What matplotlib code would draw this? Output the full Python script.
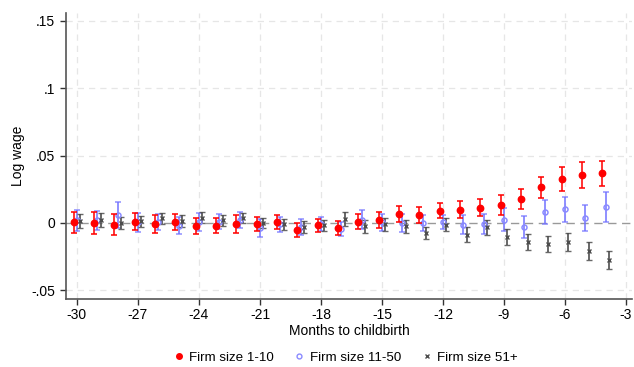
import numpy as np
import matplotlib
matplotlib.use("Agg")
import matplotlib.pyplot as plt
from matplotlib.lines import Line2D

plt.rcParams['font.family'] = ['Liberation Sans', 'DejaVu Sans']
plt.rcParams['axes.unicode_minus'] = False

months = np.arange(-30, -3)

# firm size 1-10 (coef, half-width of 95% CI)
small = [0.0005, -0.0002, -0.0012, 0.001, -0.001, 0.0005, -0.002, -0.002, -0.001, -0.001,
         0.0007, -0.0052, -0.0018, -0.004, 0.001, 0.002, 0.0065, 0.006, 0.009, 0.0098,
         0.0113, 0.0134, 0.018, 0.0264, 0.0327, 0.0355, 0.0369]
small_ci = [0.008, 0.008, 0.0078, 0.0065, 0.0067, 0.006, 0.006, 0.0056, 0.0067, 0.0052,
            0.0053, 0.0052, 0.0048, 0.0052, 0.0054, 0.0058, 0.0058, 0.0058, 0.0056, 0.0063,
            0.0063, 0.0074, 0.0075, 0.008, 0.009, 0.0095, 0.0094]

# firm size 11-50
mid = [0.002, 0.002, 0.006, 0.0005, 0.0005, -0.002, 0.0005, 0.001, 0.002, -0.0035,
       -0.001, -0.003, -0.0005, -0.0043, 0.0025, 0.0005, 0.0, -0.0003, 0.0005, -0.0013,
       -0.001, 0.0025, -0.0028, 0.0082, 0.0102, 0.0035, 0.0117]
mid_ci = [0.0077, 0.007, 0.0095, 0.007, 0.006, 0.0065, 0.0068, 0.0056, 0.0058, 0.0068,
          0.0057, 0.0056, 0.0053, 0.005, 0.0068, 0.0065, 0.0065, 0.006, 0.0053, 0.007,
          0.0075, 0.0084, 0.008, 0.009, 0.0094, 0.0095, 0.011]

# firm size 51+
large = [0.0017, 0.002, 0.0, 0.0013, 0.0035, 0.0017, 0.004, 0.002, 0.0035, -0.0002,
         -0.001, -0.003, -0.0018, 0.003, -0.0025, -0.001, -0.0025, -0.0075, -0.0013, -0.0086,
         -0.0032, -0.0106, -0.0139, -0.0156, -0.0141, -0.0206, -0.0275]
large_ci = [0.0053, 0.0053, 0.0043, 0.004, 0.004, 0.0046, 0.004, 0.0042, 0.0037, 0.0037,
            0.0043, 0.0043, 0.0041, 0.005, 0.005, 0.0047, 0.0048, 0.0047, 0.005, 0.0056,
            0.0056, 0.006, 0.006, 0.0063, 0.0067, 0.0067, 0.0069]

xticks = [-30, -27, -24, -21, -18, -15, -12, -9, -6, -3]
yticks = [-0.05, 0, 0.05, 0.1, 0.15]
ytick_labels = ['-.05', '0', '.05', '.1', '.15']

RED = '#ff0000'
BLUE = '#8a8aff'
GRAY = '#4d4d4d'

fig = plt.figure(figsize=(6.34, 3.67), dpi=100)
ax = fig.add_axes([0.104, 0.185, 0.893, 0.78])

for x in xticks:
    ax.axvline(x, color='#e6e6e6', lw=0.9, ls=(0, (5, 4)), zorder=0)
for y in yticks:
    if y != 0:
        ax.axhline(y, color='#e6e6e6', lw=0.9, ls=(0, (5, 4)), zorder=0)
ax.axhline(0, color='#999999', lw=1.0, ls=(0, (6, 4)), zorder=1)

ax.errorbar(months - 0.16, small, yerr=small_ci, fmt='o', color=RED, ms=4.6,
            ecolor=(1, 0, 0, 0.8), elinewidth=1.4, capsize=2.1, capthick=1.4, zorder=4)
ax.errorbar(months, mid, yerr=mid_ci, fmt='o', mfc='none', mec=BLUE, ms=3.6, mew=1.1,
            ecolor=(0.45, 0.45, 1, 0.8), elinewidth=1.4, capsize=2.1, capthick=1.4, zorder=3)
ax.errorbar(months + 0.16, large, yerr=large_ci, fmt='x', color=GRAY, ms=3.0, mew=1.0,
            ecolor=(0.3, 0.3, 0.3, 0.85), elinewidth=1.4, capsize=2.0, capthick=1.4, zorder=3)

ax.set_xlim(-30.54, -2.7)
ax.set_ylim(-0.0565, 0.156)
ax.set_xticks(xticks)
ax.set_xticklabels([str(t) for t in xticks])
ax.set_yticks(yticks)
ax.set_yticklabels(ytick_labels)
ax.tick_params(labelsize=10, length=4.5, color='#333333', width=1)
ax.tick_params(axis='x', pad=2)
ax.spines['top'].set_visible(False)
ax.spines['right'].set_visible(False)
for s in ['left', 'bottom']:
    ax.spines[s].set_color('#555555')
    ax.spines[s].set_linewidth(1.2)
ax.set_xlabel('Months to childbirth', fontsize=10, labelpad=1)
ax.set_ylabel('Log wage', fontsize=10, labelpad=4)

handles = [
    Line2D([], [], ls='none', marker='o', color=RED, ms=4),
    Line2D([], [], ls='none', marker='o', mfc='none', mec=BLUE, ms=3.5, mew=1),
    Line2D([], [], ls='none', marker='x', color=GRAY, ms=3, mew=1),
]
ax.legend(handles, ['Firm size 1-10', 'Firm size 11-50', 'Firm size 51+'],
          loc='center', bbox_to_anchor=(0.495, -0.205), ncol=3, frameon=False,
          fontsize=9.6, handlelength=0.6, handletextpad=0.5, columnspacing=1.6)

fig.savefig('out.png', dpi=100, facecolor='white')
